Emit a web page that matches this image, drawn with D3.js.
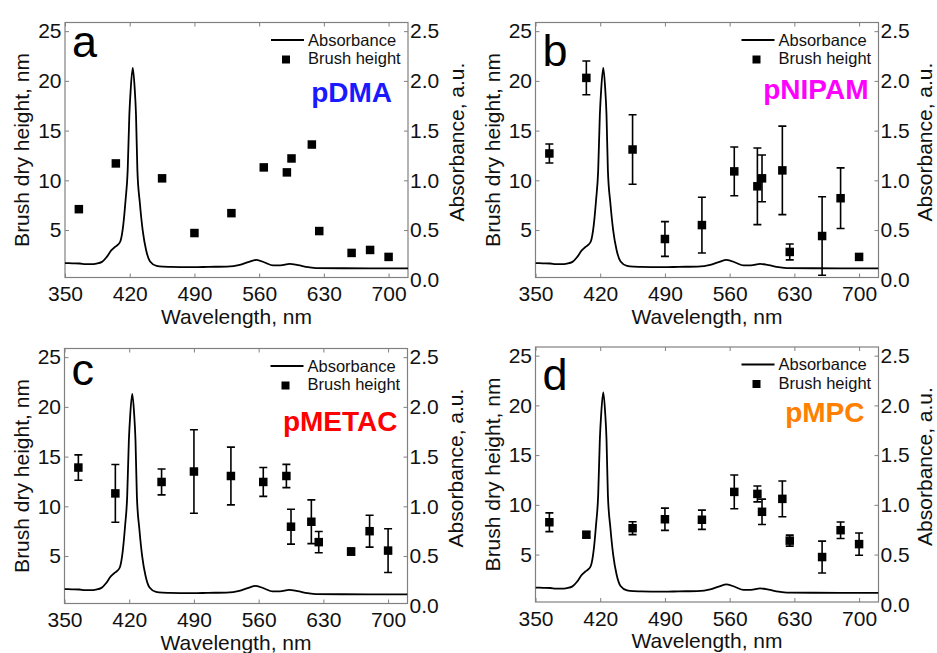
<!DOCTYPE html>
<html>
<head>
<meta charset="utf-8">
<script src="https://cdn.jsdelivr.net/npm/d3@7"></script>
<style>
  html, body { margin: 0; padding: 0; background: #fff; }
  svg { display: block; font-family: "Liberation Sans", Arial, sans-serif; }
</style>
</head>
<body>
<svg id="chart" width="937" height="653"></svg>
<script>
// ---------------- data ----------------
const wavelengths = [365, 405, 455, 490, 530, 565, 590, 595, 617, 625, 660, 680, 700];

const heightDMA    = [7.1, 11.7, 10.2, 4.7, 6.7, 11.3, 10.8, 12.2, 13.6, 4.9, 2.7, 3.0, 2.3];
const heightNIPAM  = [12.7, 20.3, 13.1, 4.1, 5.5, 10.9, 9.4, 10.2, 11.0, 2.8, 4.4, 8.2, 2.3];
const errNIPAM     = [0.95, 1.7, 3.5, 1.75, 2.8, 2.45, 3.85, 2.35, 4.45, 0.8, 3.95, 3.05, 0];
const heightMETAC  = [13.9, 11.3, 12.45, 13.5, 13.05, 12.45, 13.05, 7.95, 8.45, 6.4, 5.45, 7.5, 5.55];
const errMETAC     = [1.27, 2.9, 1.3, 4.2, 2.9, 1.45, 1.17, 1.75, 2.2, 1.07, 0.35, 1.6, 2.2];
const heightMPC    = [8.25, 7.0, 7.65, 8.55, 8.5, 11.3, 11.1, 9.3, 10.6, 6.4, 4.75, 7.45, 6.05];
const errMPC       = [0.94, 0.3, 0.65, 1.12, 0.97, 1.7, 0.8, 1.27, 1.8, 0.55, 1.6, 0.83, 1.12];

const absWavelength = [350, 358, 366, 372, 378, 384, 390, 395, 400, 404, 407, 410, 413, 415.5, 417.8,
  419.6, 421.1, 423.3, 425.4, 426.8, 428.3, 431, 434, 437.7, 442, 449, 456, 464, 475, 489, 505, 525,
  539, 548, 557, 566, 575, 583, 593, 602, 613, 622, 650, 680, 721];
const absValue = [0.168, 0.166, 0.164, 0.158, 0.157, 0.163, 0.18, 0.228, 0.295, 0.33, 0.35, 0.39, 0.55, 0.80, 1.10,
  1.66, 1.92, 2.13, 1.92, 1.66, 1.10, 0.77, 0.50, 0.30, 0.184, 0.14, 0.132, 0.13, 0.128, 0.127, 0.13, 0.133,
  0.15, 0.178, 0.20, 0.174, 0.144, 0.144, 0.16, 0.147, 0.127, 0.117, 0.116, 0.115, 0.115];

const xTicks = [350, 420, 490, 560, 630, 700];
const yLeftTicks = [5, 10, 15, 20, 25];
const yRightTicks = [0, 0.5, 1.0, 1.5, 2.0, 2.5];

const panelLetters = ["a", "b", "c", "d"];
const polymerNames = ["pDMA", "pNIPAM", "pMETAC", "pMPC"];
const polymerColors = ["#1a1aff", "#ff00ff", "#ff0000", "#ff8000"];
const panelHeights = [heightDMA, heightNIPAM, heightMETAC, heightMPC];
const panelErrors = [null, errNIPAM, errMETAC, errMPC];

// ---------------- layout ----------------
const W = 343, H = 255;
const panels = [
  { left: 65,    top: 22.5,  letterY: 57,  nameY: 102, nameDx: -16, rTitle: 48.5 },
  { left: 535.5, top: 22.5,  letterY: 66,  nameY: 99,  nameDx: -10, rTitle: 46 },
  { left: 64.5,  top: 348.5, letterY: 385, nameY: 431, nameDx: -10, rTitle: 48.5 },
  { left: 535.5, top: 347,   letterY: 390, nameY: 422, nameDx: -14, rTitle: 46 }
];

const svg = d3.select("#chart");
const frameColor = "#808080";
const textColor = "#111";

panels.forEach((p, i) => {
  const g = svg.append("g").attr("transform", `translate(${p.left},${p.top})`);
  const x = d3.scaleLinear().domain([350, 721]).range([0, W]);
  const yL = d3.scaleLinear().domain([0.23, 25.87]).range([H, 0]);
  const yR = d3.scaleLinear().domain([0.023, 2.587]).range([H, 0]);

  // axes
  const ax = g.append("g").attr("transform", `translate(0,${H})`)
    .call(d3.axisBottom(x).tickValues(xTicks).tickSize(-4).tickPadding(9).tickFormat(d3.format("d")));
  const axTop = g.append("g")
    .call(d3.axisTop(x).tickValues(xTicks).tickSize(-4).tickFormat(""));
  const ayL = g.append("g")
    .call(d3.axisLeft(yL).tickValues(yLeftTicks).tickSize(-4).tickPadding(3.5).tickFormat(d3.format("d")));
  const ayR = g.append("g").attr("transform", `translate(${W},0)`)
    .call(d3.axisRight(yR).tickValues(yRightTicks.filter(v => v > 0)).tickSize(-4).tickPadding(2).tickFormat(d3.format(".1f")));
  // 0.0 label (sits at the bottom edge)
  const ayR0 = g.append("g").attr("transform", `translate(${W},0)`)
    .call(d3.axisRight(yR).tickValues(yRightTicks.filter(v => v === 0)).tickSize(0).tickPadding(2).tickFormat(d3.format(".1f")));

  [ax, axTop, ayL, ayR, ayR0].forEach(a => {
    a.select(".domain").remove();
    a.selectAll(".tick line").attr("stroke", frameColor).attr("stroke-width", 1);
    a.selectAll(".tick text").attr("fill", textColor).style("font-size", "21px")
      .style("font-family", "'Liberation Sans', Arial, sans-serif");
  });

  // frame
  g.append("rect").attr("x", 0).attr("y", 0).attr("width", W).attr("height", H)
    .attr("fill", "none").attr("stroke", frameColor).attr("stroke-width", 1.2);

  // clip
  const clipId = "clip" + i;
  g.append("clipPath").attr("id", clipId).append("rect").attr("width", W).attr("height", H);
  const plot = g.append("g").attr("clip-path", `url(#${clipId})`);

  // absorbance curve
  const absData = absWavelength.map((w, k) => [w, absValue[k]]);
  plot.append("path").datum(absData)
    .attr("fill", "none").attr("stroke", "#000").attr("stroke-width", 1.8)
    .attr("d", d3.line().x(d => x(d[0])).y(d => yR(d[1])).curve(d3.curveMonotoneX));

  // error bars
  const vals = panelHeights[i];
  const errs = panelErrors[i];
  const pts = wavelengths.map((w, k) => ({ w, v: vals[k], e: errs ? errs[k] : 0 }));
  const eb = plot.append("g").attr("stroke", "#000").attr("stroke-width", 1.6);
  pts.filter(d => d.e > 0).forEach(d => {
    const cx = x(d.w);
    eb.append("line").attr("x1", cx).attr("x2", cx).attr("y1", yL(d.v + d.e)).attr("y2", yL(d.v - d.e));
    eb.append("line").attr("x1", cx - 4).attr("x2", cx + 4).attr("y1", yL(d.v + d.e)).attr("y2", yL(d.v + d.e));
    eb.append("line").attr("x1", cx - 4).attr("x2", cx + 4).attr("y1", yL(d.v - d.e)).attr("y2", yL(d.v - d.e));
  });

  // markers
  const s = 8.5;
  plot.append("g").selectAll("rect").data(pts).join("rect")
    .attr("x", d => x(d.w) - s / 2).attr("y", d => yL(d.v) - s / 2)
    .attr("width", s).attr("height", s).attr("fill", "#000");

  // legend
  const lg = g.append("g");
  lg.append("line").attr("x1", W - 137).attr("x2", W - 104).attr("y1", 17.5).attr("y2", 17.5)
    .attr("stroke", "#000").attr("stroke-width", 1.8);
  lg.append("text").attr("x", W - 100).attr("y", 23).text("Absorbance")
    .style("font-size", "16.5px").attr("fill", textColor);
  lg.append("rect").attr("x", W - 122 - 4).attr("y", 37 - 4).attr("width", 8).attr("height", 8).attr("fill", "#000");
  lg.append("text").attr("x", W - 100).attr("y", 41.5).text("Brush height")
    .style("font-size", "16.5px").attr("fill", textColor);

  // panel letter
  svg.append("text").attr("x", p.left + 7).attr("y", p.letterY).text(panelLetters[i])
    .style("font-size", "45px").attr("fill", "#000");

  // polymer name
  svg.append("text").attr("x", p.left + W + p.nameDx).attr("y", p.nameY)
    .attr("text-anchor", "end").text(polymerNames[i])
    .style("font-size", "28px").style("font-weight", "bold").attr("fill", polymerColors[i]);

  // axis titles
  g.append("text").attr("x", W / 2).attr("y", H + 46).attr("text-anchor", "middle")
    .text("Wavelength, nm").style("font-size", "21px").attr("fill", textColor);
  g.append("text").attr("transform", `translate(${-43},${H / 2}) rotate(-90)`)
    .attr("text-anchor", "middle").attr("dy", "0.35em")
    .text("Brush dry height, nm").style("font-size", "21px").attr("fill", textColor);
  g.append("text").attr("transform", `translate(${W + p.rTitle},${H / 2 - 8}) rotate(-90)`)
    .attr("text-anchor", "middle").attr("dy", "0.35em")
    .text("Absorbance, a.u.").style("font-size", "21px").attr("fill", textColor);
});
</script>
</body>
</html>
